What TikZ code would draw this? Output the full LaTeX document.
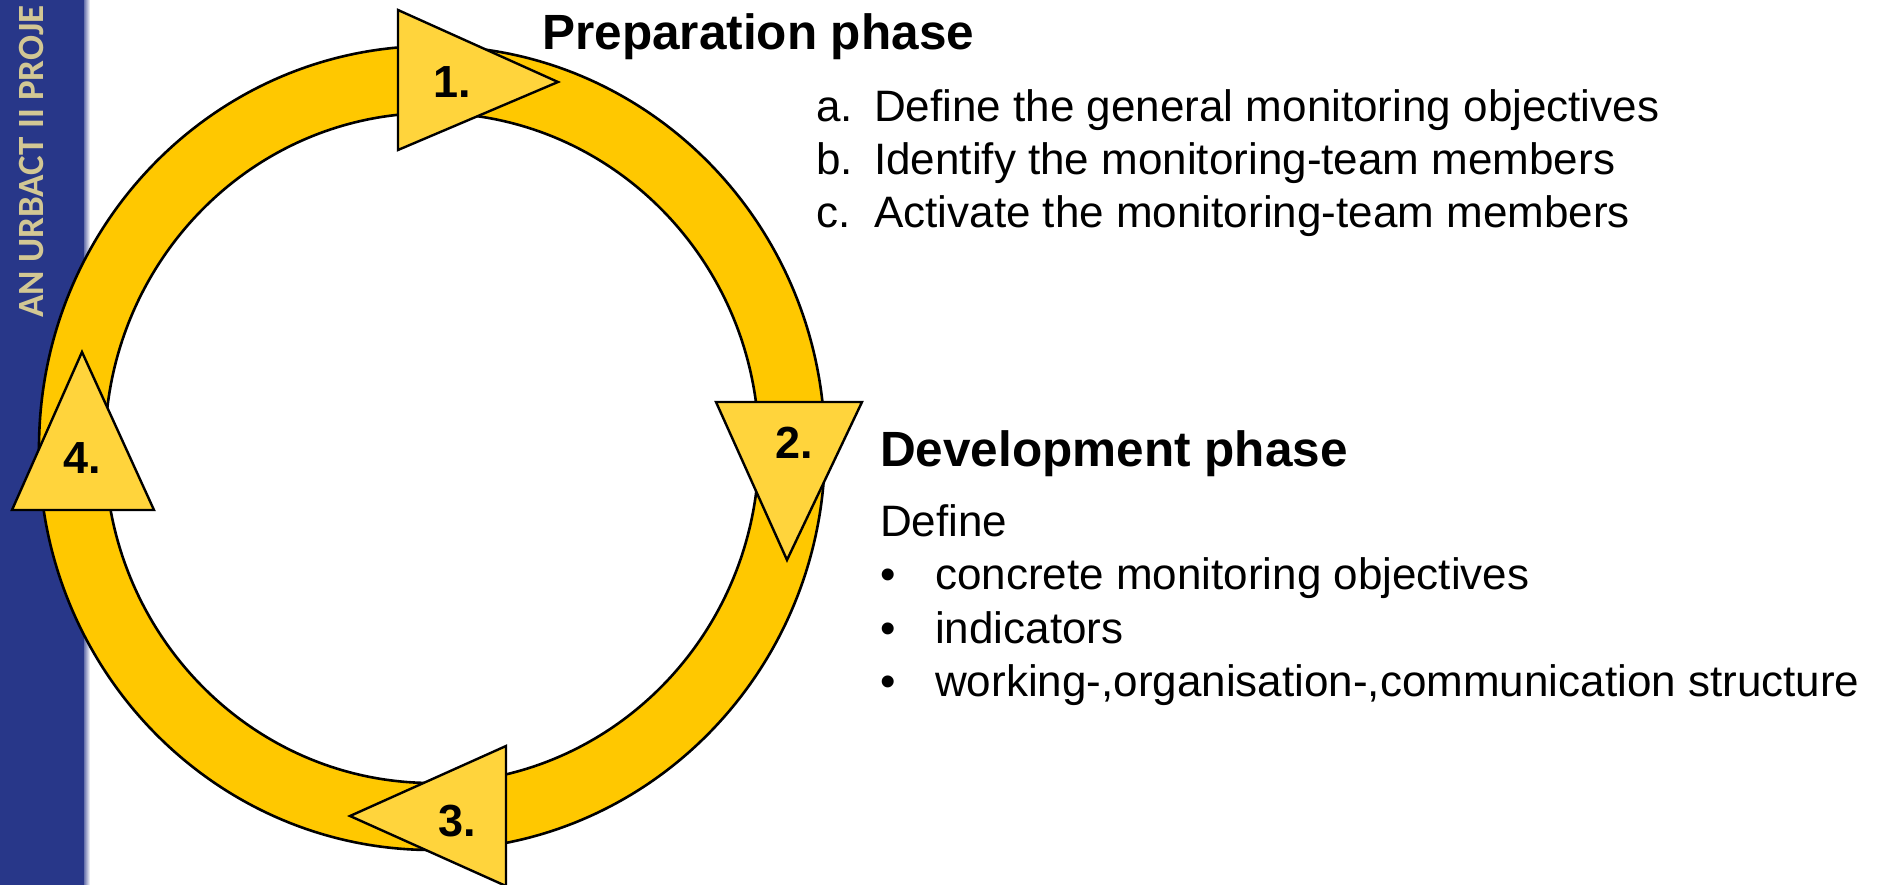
\documentclass[tikz,border=0pt]{standalone}
\usepackage{fontspec}
\setmainfont{Liberation Sans}
\newfontfamily\barfont{Carlito}
\definecolor{urbblue}{HTML}{283789}
\definecolor{bartext}{HTML}{D2C794}
\definecolor{ringgold}{HTML}{FFC800}
\definecolor{trigold}{HTML}{FFD43C}

\tikzset{
  tri/.style={draw=black, line width=2.4pt, fill=trigold, line join=miter},
  numlbl/.style={inner sep=0pt, font=\fontsize{45}{45}\selectfont\bfseries},
  headtxt/.style={anchor=base west, inner sep=0pt, font=\fontsize{49.5}{58}\selectfont\bfseries},
  bodytxt/.style={anchor=base west, inner sep=0pt, font=\fontsize{44}{53}\selectfont},
}

\begin{document}
\begin{tikzpicture}[x=1pt,y=-1pt]
\useasboundingbox (0,0) rectangle (1881,885);
\clip (0,0) rectangle (1881,885);

% side bar
\fill[urbblue] (0,0) rectangle (84,885);
\shade[left color=urbblue!70, right color=white] (84,0) rectangle (90,885);
\node[rotate=90, anchor=base west, inner sep=0pt, text=bartext,
      font=\barfont\bfseries\fontsize{37}{37}\selectfont] (bar) at (43,318) {AN URBACT II PROJE};

% ring
\draw[line width=2.6pt, fill=ringgold, even odd rule]
  (432,448) ellipse [x radius=393, y radius=402]
  (432,448) ellipse [x radius=327, y radius=335];

% step triangles
\draw[tri] (398,10) -- (558,82) -- (398,150) -- cycle;
\draw[tri] (716,402) -- (862,402) -- (787,560) -- cycle;
\draw[tri] (506,746) -- (506,886) -- (350,816) -- cycle;
\draw[tri] (82,352) -- (154,510) -- (12,510) -- cycle;

\node[numlbl] (n1) at (452,82) {1.};
\node[numlbl] (n2) at (794,443) {2.};
\node[numlbl] (n3) at (457,821) {3.};
\node[numlbl] (n4) at (82,458) {4.};

% phase texts
\node[headtxt] (prep) at (542,50) {Preparation phase};
\node[bodytxt] (pa) at (816,122) {\makebox[58pt][l]{a.}Define the general monitoring objectives};
\node[bodytxt] (pb) at (816,175) {\makebox[58pt][l]{b.}Identify the monitoring-team members};
\node[bodytxt] (pc) at (816,228) {\makebox[58pt][l]{c.}Activate the monitoring-team members};

\node[headtxt] (dev) at (880,466) {Development phase};
\node[bodytxt] (dd) at (880,536) {Define};
\node[bodytxt] (d1) at (880,589) {\makebox[55pt][l]{\textbullet}concrete monitoring objectives};
\node[bodytxt] (d2) at (880,643) {\makebox[55pt][l]{\textbullet}indicators};
\node[bodytxt] (d3) at (880,696) {\makebox[55pt][l]{\textbullet}working-,organisation-,communication structure};
\end{tikzpicture}
\end{document}
